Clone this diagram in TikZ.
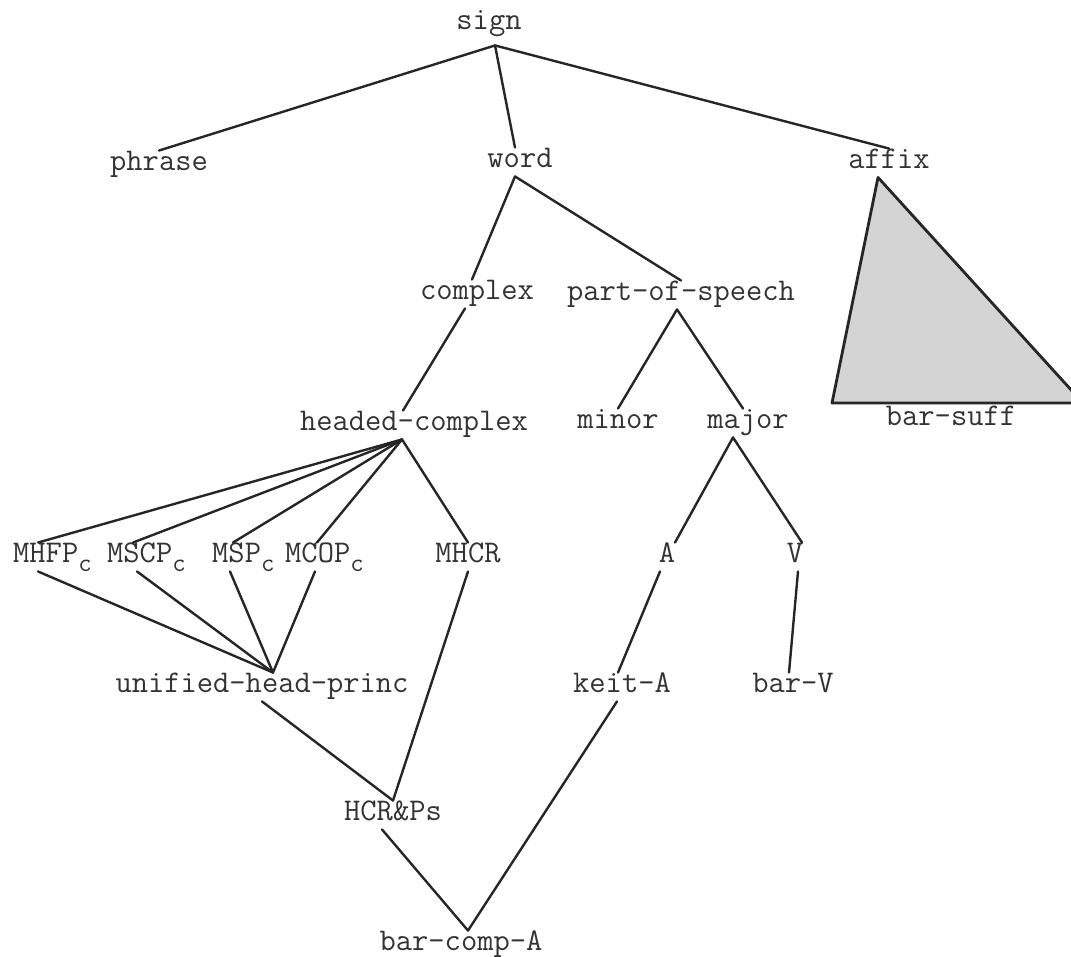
\documentclass[tikz,border=0pt]{standalone}
\usepackage{fontspec}
\newcommand\subc{\raisebox{-9pt}{\fontsize{26}{28}\selectfont c}}
\tikzset{
  type/.style={font=\ttfamily\fontsize{31.6}{34}\selectfont,text=black!80,
    text height=17pt,text depth=5.5pt,inner xsep=0pt,inner ysep=3pt},
  isa/.style={line width=2.4pt,draw=black!85}
}
\begin{document}
\begin{tikzpicture}[x=1pt,y=-1pt,line cap=round,line join=round]
  \useasboundingbox (0,0) rectangle (1071,957);
  \clip (0,0) rectangle (1071,957);
  \node[type] (sign) at (489,24) {sign};
  \node[type] (phrase) at (159,165) {phrase};
  \node[type] (word) at (520,162) {word};
  \node[type] (affix) at (889,163) {affix};
  \node[type] (complex) at (477,294) {complex};
  \node[type] (pos) at (681,295) {part-of-speech};
  \node[type] (headed) at (414,425) {headed-complex};
  \node[type] (minor) at (618,423) {minor};
  \node[type] (major) at (748,423) {major};
  \node[type] (barsuff) at (951,420) {bar-suff};
  \node[type,anchor=west] (mhfp) at (13,557) {MHFP\subc};
  \node[type,anchor=west] (mscp) at (107,557) {MSCP\subc};
  \node[type,anchor=west] (msp) at (212,557) {MSP\subc};
  \node[type,anchor=west] (mcop) at (285,557) {MCOP\subc};
  \node[type] (mhcr) at (468,557) {MHCR};
  \node[type] (typeA) at (667,557) {A};
  \node[type] (typeV) at (795,557) {V};
  \node[type] (unified) at (262,687) {unified-head-princ};
  \node[type] (keitA) at (622,687) {keit-A};
  \node[type] (barV) at (793,687) {bar-V};
  \node[type] (hcrps) at (393,815) {HCR\&Ps};
  \node[type] (barcompA) at (461,945) {bar-comp-A};
  \filldraw[isa,line width=2.8pt,fill=black!17] ([xshift=-11pt]affix.south) -- (832,403) -- (1083,403) -- cycle;
  \draw[isa] ([xshift=6pt,yshift=-7pt]sign.south) -- (phrase.north);
  \draw[isa] ([xshift=6pt,yshift=-7pt]sign.south) -- ([xshift=-5pt]word.north);
  \draw[isa] ([xshift=6pt,yshift=-7pt]sign.south) -- (affix.north);
  \draw[isa] ([xshift=-5pt]word.south) -- ([xshift=-5pt]complex.north);
  \draw[isa] ([xshift=-5pt]word.south) -- (pos.north);
  \draw[isa] ([xshift=-12pt]complex.south) -- ([xshift=-11pt]headed.north);
  \draw[isa] ([xshift=-4pt]pos.south) -- (minor.north);
  \draw[isa] ([xshift=-4pt]pos.south) -- ([xshift=-5pt]major.north);
  \draw[isa] ([xshift=-12pt]headed.south) -- ([xshift=25pt]mhfp.north west);
  \draw[isa] ([xshift=-12pt]headed.south) -- ([xshift=26pt]mscp.north west);
  \draw[isa] ([xshift=-12pt]headed.south) -- ([xshift=21pt]msp.north west);
  \draw[isa] ([xshift=-12pt]headed.south) -- ([xshift=32pt]mcop.north west);
  \draw[isa] ([xshift=-12pt]headed.south) -- (mhcr.north);
  \draw[isa] ([xshift=25pt]mhfp.south west) -- ([xshift=11pt]unified.north);
  \draw[isa] ([xshift=30pt]mscp.south west) -- ([xshift=11pt]unified.north);
  \draw[isa] ([xshift=18pt]msp.south west) -- ([xshift=11pt]unified.north);
  \draw[isa] ([xshift=30pt]mcop.south west) -- ([xshift=11pt]unified.north);
  \draw[isa] (mhcr.south) -- (hcrps.north);
  \draw[isa] (unified.south) -- (hcrps.north);
  \draw[isa] ([xshift=-11pt]hcrps.south) -- ([xshift=7pt]barcompA.north);
  \draw[isa] ([xshift=-15pt]major.south) -- ([xshift=8pt]typeA.north);
  \draw[isa] ([xshift=-15pt]major.south) -- ([xshift=7pt]typeV.north);
  \draw[isa] ([xshift=-7pt]typeA.south) -- ([xshift=-4pt]keitA.north);
  \draw[isa] ([xshift=3pt]typeV.south) -- ([xshift=-4pt]barV.north);
  \draw[isa] ([xshift=-5pt]keitA.south) -- ([xshift=7pt]barcompA.north);
\end{tikzpicture}
\end{document}
